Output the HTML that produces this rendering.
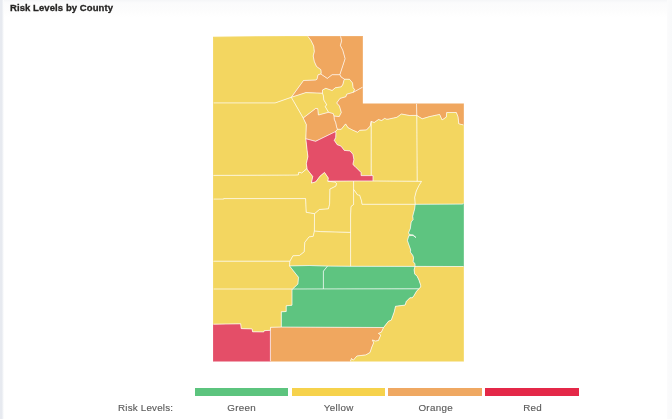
<!DOCTYPE html>
<html><head><meta charset="utf-8"><title>Risk Levels by County</title>
<style>
html,body{margin:0;padding:0;background:#fff;}
body{width:672px;height:419px;position:relative;overflow:hidden;font-family:"Liberation Sans",sans-serif;}
.gs{will-change:transform;}
.edge{position:absolute;left:0;top:0;width:1.5px;height:419px;background:#e7eaf0;}
.edge2{position:absolute;left:1.5px;top:0;width:2.2px;height:419px;background:linear-gradient(90deg,#e9ecf1,#fff);}
.topband{position:absolute;left:2px;top:0;width:670px;height:17px;background:linear-gradient(180deg,#f5f6f8 0,#fbfbfc 3px,#fdfdfd 12px,#fff);}
.rband{position:absolute;right:0;top:0;width:5px;height:419px;background:linear-gradient(90deg,#fbfbfc,#f8f9fa);}
h1{position:absolute;left:9.6px;top:2.0px;margin:0;font-size:9.5px;letter-spacing:0.08px;font-weight:bold;color:#252423;white-space:nowrap;-webkit-text-stroke:0.3px #252423;}
svg{position:absolute;left:0;top:0;}
.lbl{position:absolute;top:401.9px;font-size:9.8px;letter-spacing:0.3px;color:#5c5c5c;white-space:nowrap;-webkit-text-stroke:0.15px #5c5c5c;}
.bar{position:absolute;top:388px;height:8px;width:93.4px;}
</style></head>
<body>
<div class="topband"></div>
<div class="rband"></div>
<div class="edge"></div>
<div class="edge2"></div>
<h1 class="gs">Risk Levels by County</h1>
<svg width="672" height="419" viewBox="0 0 672 419">
<g shape-rendering="geometricPrecision">
<path fill="#f3d660" d="M213.0 36.8L290.0 36.0L307.7 36.1L311.0 40.6L313.7 46.1L314.3 51.6L313.2 56.0L314.3 61.5L316.5 66.4L320.9 69.7L321.2 73.0L320.8 74.0L318.0 74.8L317.0 79.3L315.5 80.0L303.5 80.5L291.3 97.3L275.2 102.9L213.0 102.9Z"/>
<path fill="#f0a75f" d="M307.7 36.1L340.5 36.1L341.6 40.7L340.4 45.5L342.8 50.3L345.1 58.7L342.8 65.8L340.4 73.0L339.9 74.7L332.1 74.7L327.3 78.4L320.8 74.0L321.2 73.0L320.9 69.7L316.5 66.4L314.3 61.5L313.2 56.0L314.3 51.6L313.7 46.1L311.0 40.6Z"/>
<path fill="#f0a75f" d="M340.5 36.1L362.9 36.0L362.9 87.0L353.3 92.3L354.6 89.4L353.1 87.8L352.5 82.9L349.5 79.3L344.5 79.2L341.1 77.0L339.9 74.7L340.4 73.0L342.8 65.8L345.1 58.7L342.8 50.3L340.4 45.5L341.6 40.7Z"/>
<path fill="#f0a75f" d="M320.8 74.0L327.3 78.4L332.1 74.7L339.9 74.7L341.1 77.0L344.5 79.2L344.0 80.2L342.8 84.5L341.3 86.8L335.3 87.8L332.1 90.5L325.8 88.3L322.5 90.0L322.5 93.2L305.9 92.6L291.3 97.3L303.5 80.5L315.5 80.0L317.0 79.3L318.0 74.8Z"/>
<path fill="#f3d660" d="M291.3 97.3L305.9 92.6L322.5 93.2L323.4 95.9L323.8 100.0L326.8 104.9L325.1 106.4L328.5 112.3L318.4 115.0L317.8 108.7L315.7 108.4L303.2 118.0Z"/>
<path fill="#f3d660" d="M322.5 93.2L322.5 90.0L325.8 88.3L332.1 90.5L335.3 87.8L341.3 86.8L342.8 84.5L344.0 80.2L344.5 79.2L349.5 79.3L352.5 82.9L353.1 87.8L354.6 89.4L353.3 92.3L346.7 94.2L345.9 96.7L340.0 98.4L336.7 103.0L339.4 106.0L341.3 112.4L339.2 116.6L334.0 116.0L333.2 113.6L328.5 112.3L325.1 106.4L326.8 104.9L323.8 100.0L323.4 95.9Z"/>
<path fill="#f0a75f" d="M303.2 118.0L315.7 108.4L317.8 108.7L318.4 115.0L328.5 112.3L333.2 113.6L334.0 116.0L334.3 119.4L335.7 122.6L336.6 126.9L337.4 129.3L335.6 131.5L315.6 141.3L305.8 138.7L306.3 124.5Z"/>
<path fill="#f0a75f" d="M362.9 87.0L362.9 103.4L416.5 103.4L416.8 115.4L409.6 115.5L401.4 114.0L396.9 117.3L388.0 119.2L386.7 119.2L384.6 118.4L381.7 120.5L378.4 119.6L374.2 122.5L371.2 121.4L370.2 126.1L366.5 129.9L359.8 130.3L357.6 132.3L352.0 129.8L347.9 127.6L345.6 123.9L341.2 129.3L337.4 129.3L336.6 126.9L335.7 122.6L334.3 119.4L334.0 116.0L339.2 116.6L341.3 112.4L339.4 106.0L336.7 103.0L340.0 98.4L345.9 96.7L346.7 94.2L353.3 92.3Z"/>
<path fill="#f0a75f" d="M416.5 103.4L463.9 103.4L463.9 125.1L458.8 123.8L458.0 116.7L456.3 112.5L446.7 112.5L446.3 117.1L442.1 119.9L439.6 114.4L429.6 116.6L422.2 118.8L416.8 115.4Z"/>
<path fill="#f3d660" d="M416.8 115.4L422.2 118.8L429.6 116.6L439.6 114.4L442.1 119.9L446.3 117.1L446.7 112.5L456.3 112.5L458.0 116.7L458.8 123.8L463.9 125.1L463.9 203.6L462.0 204.1L415.2 204.3L414.7 197.3L416.3 191.0L418.9 185.7L421.5 181.4L417.2 181.3Z"/>
<path fill="#f3d660" d="M371.2 121.4L374.2 122.5L378.4 119.6L381.7 120.5L384.6 118.4L386.7 119.2L388.0 119.2L396.9 117.3L401.4 114.0L409.6 115.5L416.8 115.4L417.2 181.3L373.0 181.0L373.0 175.6L371.2 175.6Z"/>
<path fill="#f3d660" d="M335.6 131.5L337.4 129.3L341.2 129.3L345.6 123.9L347.9 127.6L352.0 129.8L357.6 132.3L359.8 130.3L366.5 129.9L370.2 126.1L371.2 121.4L371.2 175.6L361.1 175.6L361.1 172.5L355.0 166.4L352.9 164.5L353.9 159.5L352.9 154.2L350.0 150.9L344.3 150.4L341.0 146.1L337.2 144.7L334.3 140.4L335.7 137.5L335.9 133.5Z"/>
<path fill="#e44e68" d="M305.8 138.7L315.6 141.3L335.6 131.5L335.9 133.5L335.7 137.5L334.3 140.4L337.2 144.7L341.0 146.1L344.3 150.4L350.0 150.9L352.9 154.2L353.9 159.5L352.9 164.5L355.0 166.4L361.1 172.5L361.1 175.6L371.2 175.6L373.0 175.6L373.0 181.0L353.6 181.0L327.8 181.2L328.3 178.0L324.5 172.4L320.1 176.1L315.8 181.8L311.4 183.1L312.7 176.4L306.7 168.8L307.1 169.0L306.3 163.6L307.9 156.6L307.1 150.4Z"/>
<path fill="#f3d660" d="M213.0 102.9L275.2 102.9L291.3 97.3L303.2 118.0L306.3 124.5L305.8 138.7L307.1 150.4L307.9 156.6L306.3 163.6L307.1 169.0L306.7 168.8L301.7 173.0L300.0 172.4L298.7 172.4L298.3 174.9L295.0 175.1L213.0 175.4Z"/>
<path fill="#f3d660" d="M213.0 175.4L295.0 175.1L298.3 174.9L298.7 172.4L300.0 172.4L301.7 173.0L306.7 168.8L312.7 176.4L311.4 183.1L315.8 181.8L320.1 176.1L324.5 172.4L328.3 178.0L327.8 181.2L335.2 182.1L336.5 183.4L335.9 186.1L329.9 189.1L329.6 204.2L328.4 208.8L319.4 209.5L314.5 213.7L306.2 212.3L305.6 198.6L223.8 198.6L223.8 199.1L213.0 199.1Z"/>
<path fill="#f3d660" d="M327.8 181.2L353.6 181.0L353.6 189.3L353.6 204.5L351.0 206.5L350.6 215.0L350.6 232.4L320.3 231.6L314.4 231.0L314.5 213.7L319.4 209.5L328.4 208.8L329.6 204.2L329.9 189.1L335.9 186.1L336.5 183.4L335.2 182.1Z"/>
<path fill="#f3d660" d="M353.6 181.0L373.0 181.0L417.2 181.3L421.5 181.4L418.9 185.7L416.3 191.0L414.7 197.3L415.2 204.3L362.0 204.3L361.5 200.8L359.6 195.1L357.7 195.1L353.6 189.3Z"/>
<path fill="#f3d660" d="M353.6 189.3L357.7 195.1L359.6 195.1L361.5 200.8L362.0 204.3L415.2 204.3L414.6 209.1L412.7 216.2L413.1 219.6L411.2 222.0L410.3 228.6L408.6 232.6L409.3 234.6L413.1 234.9L416.0 237.6L413.0 235.4L408.8 235.7L407.4 240.5L410.7 250.0L410.3 252.0L412.7 255.3L413.6 257.7L413.1 261.5L415.0 263.9L415.0 266.4L350.6 266.3L350.6 232.4L350.6 215.0L351.0 206.5L353.6 204.5Z"/>
<path fill="#5ec480" d="M415.2 204.3L462.0 204.1L463.9 203.6L463.9 266.5L415.0 266.4L415.0 263.9L413.1 261.5L413.6 257.7L412.7 255.3L410.3 252.0L410.7 250.0L407.4 240.5L408.8 235.7L413.0 235.4L416.0 237.6L413.1 234.9L409.3 234.6L408.6 232.6L410.3 228.6L411.2 222.0L413.1 219.6L412.7 216.2L414.6 209.1Z"/>
<path fill="#f3d660" d="M213.0 199.1L223.8 199.1L223.8 198.6L305.6 198.6L306.2 212.3L314.5 213.7L314.4 231.0L313.2 236.3L309.0 236.9L304.8 242.3L304.6 245.0L304.2 251.8L299.5 255.4L292.9 255.8L289.9 261.2L213.0 261.2Z"/>
<path fill="#f3d660" d="M314.4 231.0L320.3 231.6L350.6 232.4L350.6 266.3L327.5 266.1L309.4 265.5L289.5 265.9L289.9 261.2L292.9 255.8L299.5 255.4L304.2 251.8L304.6 245.0L304.8 242.3L309.0 236.9L313.2 236.3Z"/>
<path fill="#f3d660" d="M213.0 261.2L289.9 261.2L289.5 265.9L298.5 277.3L297.9 284.1L292.6 289.0L213.0 289.0Z"/>
<path fill="#5ec480" d="M289.5 265.9L309.4 265.5L327.5 266.1L323.4 271.2L323.4 288.9L292.6 289.0L297.9 284.1L298.5 277.3Z"/>
<path fill="#5ec480" d="M327.5 266.1L350.6 266.3L415.0 266.4L414.1 269.8L414.7 273.9L417.1 276.3L418.9 279.9L420.7 285.3L420.7 287.1L418.8 288.8L323.4 288.9L323.4 271.2Z"/>
<path fill="#5ec480" d="M292.6 289.0L323.4 288.9L418.8 288.8L416.5 291.3L414.1 295.4L412.3 297.8L409.9 297.8L406.3 301.4L405.1 305.1L395.5 306.3L394.3 311.7L391.3 320.1L388.4 321.3L383.6 327.5L281.3 327.1L281.3 311.8L286.2 311.5L286.2 305.8L292.0 305.2L292.0 289.6Z"/>
<path fill="#f0a75f" d="M281.3 327.1L383.6 327.5L382.5 329.8L381.3 332.2L378.4 333.4L380.7 335.1L378.4 340.5L375.4 341.1L372.4 339.9L373.6 342.9L371.8 347.1L370.0 352.5L365.8 354.9L356.9 356.0L353.3 360.2L351.5 358.4L350.3 361.5L270.4 361.5L270.4 330.3L270.6 327.3Z"/>
<path fill="#e44e68" d="M213.0 324.2L240.7 323.8L241.2 328.6L252.1 328.9L252.6 331.8L263.8 331.9L264.2 330.7L270.4 330.3L270.4 361.5L213.0 361.5Z"/>
<path fill="#f3d660" d="M213.0 289.0L292.6 289.0L292.0 289.6L292.0 305.2L286.2 305.8L286.2 311.5L281.3 311.8L281.3 327.1L270.6 327.3L270.4 330.3L264.2 330.7L263.8 331.9L252.6 331.8L252.1 328.9L241.2 328.6L240.7 323.8L213.0 324.2Z"/>
<path fill="#f3d660" d="M415.0 266.4L463.9 266.5L463.9 361.5L350.3 361.5L351.5 358.4L353.3 360.2L356.9 356.0L365.8 354.9L370.0 352.5L371.8 347.1L373.6 342.9L372.4 339.9L375.4 341.1L378.4 340.5L380.7 335.1L378.4 333.4L381.3 332.2L382.5 329.8L383.6 327.5L388.4 321.3L391.3 320.1L394.3 311.7L395.5 306.3L405.1 305.1L406.3 301.4L409.9 297.8L412.3 297.8L414.1 295.4L416.5 291.3L418.8 288.8L420.7 287.1L420.7 285.3L418.9 279.9L417.1 276.3L414.7 273.9L414.1 269.8Z"/>
</g>
<defs><clipPath id="ci"><path d="M213.6 37.4L290.0 36.6L362.3 36.6L362.3 104.0L463.3 104.0L463.3 360.9L213.6 360.9Z"/></clipPath></defs>
<g clip-path="url(#ci)" fill="none" stroke="#ffffff" stroke-opacity="0.5" stroke-width="0.8" stroke-linejoin="round">
<path d="M213.0 36.8L290.0 36.0L307.7 36.1L311.0 40.6L313.7 46.1L314.3 51.6L313.2 56.0L314.3 61.5L316.5 66.4L320.9 69.7L321.2 73.0L320.8 74.0L318.0 74.8L317.0 79.3L315.5 80.0L303.5 80.5L291.3 97.3L275.2 102.9L213.0 102.9Z"/>
<path d="M307.7 36.1L340.5 36.1L341.6 40.7L340.4 45.5L342.8 50.3L345.1 58.7L342.8 65.8L340.4 73.0L339.9 74.7L332.1 74.7L327.3 78.4L320.8 74.0L321.2 73.0L320.9 69.7L316.5 66.4L314.3 61.5L313.2 56.0L314.3 51.6L313.7 46.1L311.0 40.6Z"/>
<path d="M340.5 36.1L362.9 36.0L362.9 87.0L353.3 92.3L354.6 89.4L353.1 87.8L352.5 82.9L349.5 79.3L344.5 79.2L341.1 77.0L339.9 74.7L340.4 73.0L342.8 65.8L345.1 58.7L342.8 50.3L340.4 45.5L341.6 40.7Z"/>
<path d="M320.8 74.0L327.3 78.4L332.1 74.7L339.9 74.7L341.1 77.0L344.5 79.2L344.0 80.2L342.8 84.5L341.3 86.8L335.3 87.8L332.1 90.5L325.8 88.3L322.5 90.0L322.5 93.2L305.9 92.6L291.3 97.3L303.5 80.5L315.5 80.0L317.0 79.3L318.0 74.8Z"/>
<path d="M291.3 97.3L305.9 92.6L322.5 93.2L323.4 95.9L323.8 100.0L326.8 104.9L325.1 106.4L328.5 112.3L318.4 115.0L317.8 108.7L315.7 108.4L303.2 118.0Z"/>
<path d="M322.5 93.2L322.5 90.0L325.8 88.3L332.1 90.5L335.3 87.8L341.3 86.8L342.8 84.5L344.0 80.2L344.5 79.2L349.5 79.3L352.5 82.9L353.1 87.8L354.6 89.4L353.3 92.3L346.7 94.2L345.9 96.7L340.0 98.4L336.7 103.0L339.4 106.0L341.3 112.4L339.2 116.6L334.0 116.0L333.2 113.6L328.5 112.3L325.1 106.4L326.8 104.9L323.8 100.0L323.4 95.9Z"/>
<path d="M303.2 118.0L315.7 108.4L317.8 108.7L318.4 115.0L328.5 112.3L333.2 113.6L334.0 116.0L334.3 119.4L335.7 122.6L336.6 126.9L337.4 129.3L335.6 131.5L315.6 141.3L305.8 138.7L306.3 124.5Z"/>
<path d="M362.9 87.0L362.9 103.4L416.5 103.4L416.8 115.4L409.6 115.5L401.4 114.0L396.9 117.3L388.0 119.2L386.7 119.2L384.6 118.4L381.7 120.5L378.4 119.6L374.2 122.5L371.2 121.4L370.2 126.1L366.5 129.9L359.8 130.3L357.6 132.3L352.0 129.8L347.9 127.6L345.6 123.9L341.2 129.3L337.4 129.3L336.6 126.9L335.7 122.6L334.3 119.4L334.0 116.0L339.2 116.6L341.3 112.4L339.4 106.0L336.7 103.0L340.0 98.4L345.9 96.7L346.7 94.2L353.3 92.3Z"/>
<path d="M416.5 103.4L463.9 103.4L463.9 125.1L458.8 123.8L458.0 116.7L456.3 112.5L446.7 112.5L446.3 117.1L442.1 119.9L439.6 114.4L429.6 116.6L422.2 118.8L416.8 115.4Z"/>
<path d="M416.8 115.4L422.2 118.8L429.6 116.6L439.6 114.4L442.1 119.9L446.3 117.1L446.7 112.5L456.3 112.5L458.0 116.7L458.8 123.8L463.9 125.1L463.9 203.6L462.0 204.1L415.2 204.3L414.7 197.3L416.3 191.0L418.9 185.7L421.5 181.4L417.2 181.3Z"/>
<path d="M371.2 121.4L374.2 122.5L378.4 119.6L381.7 120.5L384.6 118.4L386.7 119.2L388.0 119.2L396.9 117.3L401.4 114.0L409.6 115.5L416.8 115.4L417.2 181.3L373.0 181.0L373.0 175.6L371.2 175.6Z"/>
<path d="M335.6 131.5L337.4 129.3L341.2 129.3L345.6 123.9L347.9 127.6L352.0 129.8L357.6 132.3L359.8 130.3L366.5 129.9L370.2 126.1L371.2 121.4L371.2 175.6L361.1 175.6L361.1 172.5L355.0 166.4L352.9 164.5L353.9 159.5L352.9 154.2L350.0 150.9L344.3 150.4L341.0 146.1L337.2 144.7L334.3 140.4L335.7 137.5L335.9 133.5Z"/>
<path d="M305.8 138.7L315.6 141.3L335.6 131.5L335.9 133.5L335.7 137.5L334.3 140.4L337.2 144.7L341.0 146.1L344.3 150.4L350.0 150.9L352.9 154.2L353.9 159.5L352.9 164.5L355.0 166.4L361.1 172.5L361.1 175.6L371.2 175.6L373.0 175.6L373.0 181.0L353.6 181.0L327.8 181.2L328.3 178.0L324.5 172.4L320.1 176.1L315.8 181.8L311.4 183.1L312.7 176.4L306.7 168.8L307.1 169.0L306.3 163.6L307.9 156.6L307.1 150.4Z"/>
<path d="M213.0 102.9L275.2 102.9L291.3 97.3L303.2 118.0L306.3 124.5L305.8 138.7L307.1 150.4L307.9 156.6L306.3 163.6L307.1 169.0L306.7 168.8L301.7 173.0L300.0 172.4L298.7 172.4L298.3 174.9L295.0 175.1L213.0 175.4Z"/>
<path d="M213.0 175.4L295.0 175.1L298.3 174.9L298.7 172.4L300.0 172.4L301.7 173.0L306.7 168.8L312.7 176.4L311.4 183.1L315.8 181.8L320.1 176.1L324.5 172.4L328.3 178.0L327.8 181.2L335.2 182.1L336.5 183.4L335.9 186.1L329.9 189.1L329.6 204.2L328.4 208.8L319.4 209.5L314.5 213.7L306.2 212.3L305.6 198.6L223.8 198.6L223.8 199.1L213.0 199.1Z"/>
<path d="M327.8 181.2L353.6 181.0L353.6 189.3L353.6 204.5L351.0 206.5L350.6 215.0L350.6 232.4L320.3 231.6L314.4 231.0L314.5 213.7L319.4 209.5L328.4 208.8L329.6 204.2L329.9 189.1L335.9 186.1L336.5 183.4L335.2 182.1Z"/>
<path d="M353.6 181.0L373.0 181.0L417.2 181.3L421.5 181.4L418.9 185.7L416.3 191.0L414.7 197.3L415.2 204.3L362.0 204.3L361.5 200.8L359.6 195.1L357.7 195.1L353.6 189.3Z"/>
<path d="M353.6 189.3L357.7 195.1L359.6 195.1L361.5 200.8L362.0 204.3L415.2 204.3L414.6 209.1L412.7 216.2L413.1 219.6L411.2 222.0L410.3 228.6L408.6 232.6L409.3 234.6L413.1 234.9L416.0 237.6L413.0 235.4L408.8 235.7L407.4 240.5L410.7 250.0L410.3 252.0L412.7 255.3L413.6 257.7L413.1 261.5L415.0 263.9L415.0 266.4L350.6 266.3L350.6 232.4L350.6 215.0L351.0 206.5L353.6 204.5Z"/>
<path d="M415.2 204.3L462.0 204.1L463.9 203.6L463.9 266.5L415.0 266.4L415.0 263.9L413.1 261.5L413.6 257.7L412.7 255.3L410.3 252.0L410.7 250.0L407.4 240.5L408.8 235.7L413.0 235.4L416.0 237.6L413.1 234.9L409.3 234.6L408.6 232.6L410.3 228.6L411.2 222.0L413.1 219.6L412.7 216.2L414.6 209.1Z"/>
<path d="M213.0 199.1L223.8 199.1L223.8 198.6L305.6 198.6L306.2 212.3L314.5 213.7L314.4 231.0L313.2 236.3L309.0 236.9L304.8 242.3L304.6 245.0L304.2 251.8L299.5 255.4L292.9 255.8L289.9 261.2L213.0 261.2Z"/>
<path d="M314.4 231.0L320.3 231.6L350.6 232.4L350.6 266.3L327.5 266.1L309.4 265.5L289.5 265.9L289.9 261.2L292.9 255.8L299.5 255.4L304.2 251.8L304.6 245.0L304.8 242.3L309.0 236.9L313.2 236.3Z"/>
<path d="M213.0 261.2L289.9 261.2L289.5 265.9L298.5 277.3L297.9 284.1L292.6 289.0L213.0 289.0Z"/>
<path d="M289.5 265.9L309.4 265.5L327.5 266.1L323.4 271.2L323.4 288.9L292.6 289.0L297.9 284.1L298.5 277.3Z"/>
<path d="M327.5 266.1L350.6 266.3L415.0 266.4L414.1 269.8L414.7 273.9L417.1 276.3L418.9 279.9L420.7 285.3L420.7 287.1L418.8 288.8L323.4 288.9L323.4 271.2Z"/>
<path d="M292.6 289.0L323.4 288.9L418.8 288.8L416.5 291.3L414.1 295.4L412.3 297.8L409.9 297.8L406.3 301.4L405.1 305.1L395.5 306.3L394.3 311.7L391.3 320.1L388.4 321.3L383.6 327.5L281.3 327.1L281.3 311.8L286.2 311.5L286.2 305.8L292.0 305.2L292.0 289.6Z"/>
<path d="M281.3 327.1L383.6 327.5L382.5 329.8L381.3 332.2L378.4 333.4L380.7 335.1L378.4 340.5L375.4 341.1L372.4 339.9L373.6 342.9L371.8 347.1L370.0 352.5L365.8 354.9L356.9 356.0L353.3 360.2L351.5 358.4L350.3 361.5L270.4 361.5L270.4 330.3L270.6 327.3Z"/>
<path d="M213.0 324.2L240.7 323.8L241.2 328.6L252.1 328.9L252.6 331.8L263.8 331.9L264.2 330.7L270.4 330.3L270.4 361.5L213.0 361.5Z"/>
<path d="M213.0 289.0L292.6 289.0L292.0 289.6L292.0 305.2L286.2 305.8L286.2 311.5L281.3 311.8L281.3 327.1L270.6 327.3L270.4 330.3L264.2 330.7L263.8 331.9L252.6 331.8L252.1 328.9L241.2 328.6L240.7 323.8L213.0 324.2Z"/>
<path d="M415.0 266.4L463.9 266.5L463.9 361.5L350.3 361.5L351.5 358.4L353.3 360.2L356.9 356.0L365.8 354.9L370.0 352.5L371.8 347.1L373.6 342.9L372.4 339.9L375.4 341.1L378.4 340.5L380.7 335.1L378.4 333.4L381.3 332.2L382.5 329.8L383.6 327.5L388.4 321.3L391.3 320.1L394.3 311.7L395.5 306.3L405.1 305.1L406.3 301.4L409.9 297.8L412.3 297.8L414.1 295.4L416.5 291.3L418.8 288.8L420.7 287.1L420.7 285.3L418.9 279.9L417.1 276.3L414.7 273.9L414.1 269.8Z"/>
</g>
</svg>
<div class="bar" style="left:194.8px;background:#5cc47e"></div>
<div class="bar" style="left:291.6px;background:#f6d24c"></div>
<div class="bar" style="left:388.4px;background:#efa862"></div>
<div class="bar" style="left:485.2px;background:#e42848"></div>
<div class="lbl gs" style="left:118.2px;letter-spacing:0.2px">Risk Levels:</div>
<div class="lbl gs" style="left:195.1px;width:93.4px;text-align:center">Green</div>
<div class="lbl gs" style="left:292.0px;width:93.4px;text-align:center">Yellow</div>
<div class="lbl gs" style="left:389.0px;width:93.4px;text-align:center">Orange</div>
<div class="lbl gs" style="left:485.8px;width:93.4px;text-align:center">Red</div>
</body></html>
